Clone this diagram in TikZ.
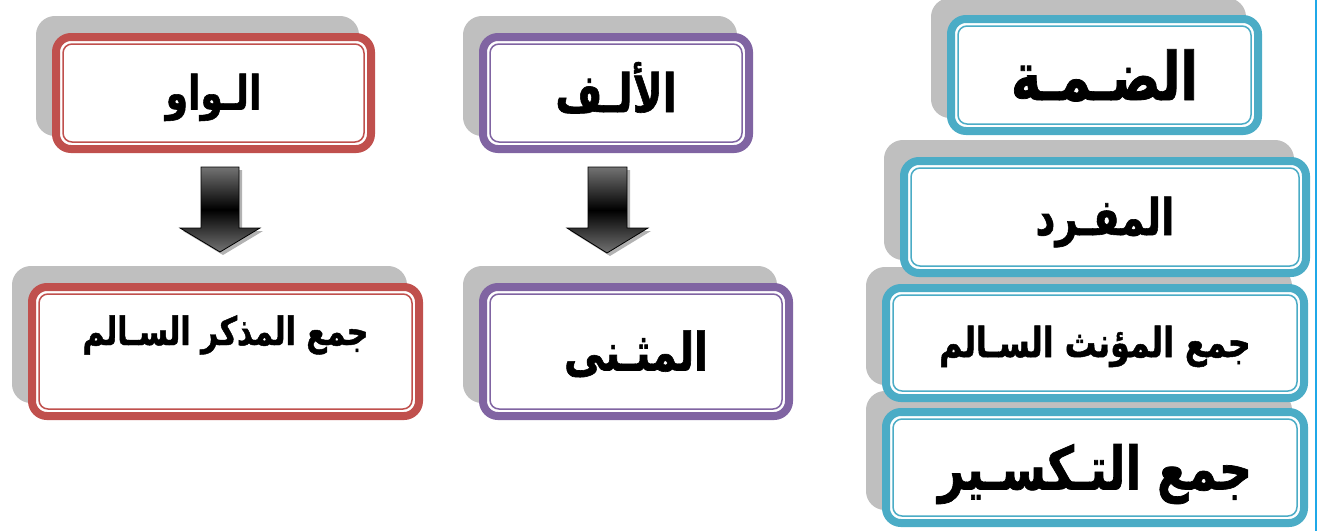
\documentclass[tikz,border=0pt]{standalone}
\usepackage{fontspec}
\usepackage{graphicx}
\usepackage{xcolor}
\usetikzlibrary{shapes,shadows,arrows,positioning,calc}
\newfontfamily\arabicfont[Script=Arabic, FakeStretch=0.88, BoldFeatures={FakeBold=1.2}]{DejaVu Sans}
\TeXXeTstate=1
\definecolor{boxRed}{RGB}{192,80,77}
\definecolor{boxPurple}{RGB}{128,100,162}
\definecolor{boxBlue}{RGB}{75,172,198}
\definecolor{edgeBlue}{RGB}{31,168,232}
\newcommand\artxt[1]{\scalebox{1}[1.15]{\beginR #1\endR}}

\begin{document}
\begin{tikzpicture}[x=1pt,y=-1pt]
\tikzset{card/.style={draw=#1, rounded corners=15pt, line width=8pt, fill=white,
   minimum height=112pt, inner sep=0pt,
   drop shadow={shadow xshift=-16pt, shadow yshift=17pt, fill=black!25, draw=black!25, line width=8pt, opacity=1},
   path picture={\draw[line width=1.5pt, draw=#1, rounded corners=9pt]
     ([shift={(7pt,7pt)}]path picture bounding box.south west) rectangle
     ([shift={(-7pt,-7pt)}]path picture bounding box.north east);}},
   fatarrow/.style={draw=black, line width=0.8pt, top color=black!55, bottom color=black!55, middle color=black,
   drop shadow={shadow xshift=3pt, shadow yshift=-3pt, fill=black!30, opacity=1}},
   artext/.style={font=\arabicfont\bfseries\fontsize{#1}{#1}\selectfont, text height=#1pt, text depth=8pt}}
\useasboundingbox (0,0) rectangle (1318,531);

\node[card=boxRed, minimum width=315pt, artext=41] at (213.5,93) (waw) {\artxt{الـواو}};
\node[card=boxPurple, minimum width=266pt, artext=46] at (616,93) (alif) {\artxt{الألـف}};

\node[card=boxRed, minimum width=387pt, minimum height=129pt, artext=34, text depth=47pt] at (225.5,351.5) (mudhakkar) {\artxt{جمع المذكر السـالم}};
\node[card=boxPurple, minimum width=306pt, minimum height=129pt, artext=46] at (636,351.5) (muthanna) {\artxt{المثـنى}};

\node[card=boxBlue, minimum width=418pt, minimum height=111pt, artext=52] at (1095,467.5) (taksir) {\artxt{جمع التـكسـير}};
\node[card=boxBlue, minimum width=418pt, minimum height=110pt, artext=36] at (1095,343) (muannath) {\artxt{جمع المؤنث السـالم}};
\node[card=boxBlue, minimum width=402pt, artext=44] at (1105,217) (mufrad) {\artxt{المفـرد}};
\node[card=boxBlue, minimum width=307pt, artext=58] at (1104.5,75) (damma) {\artxt{الضـمـة}};

\draw[fatarrow, shift={(waw.south)}] (-12.5,14) -- (25.5,14) -- (25.5,75) -- (46.5,75) -- (6.5,99) -- (-33.5,75) -- (-12.5,75) -- cycle;
\draw[fatarrow, shift={(alif.south)}] (-28,14) -- (11,14) -- (11,75) -- (32,75) -- (-9,100) -- (-49,75) -- (-28,75) -- cycle;

\draw[edgeBlue, line width=2pt] (1316,0) -- (1316,531);
\end{tikzpicture}
\end{document}
